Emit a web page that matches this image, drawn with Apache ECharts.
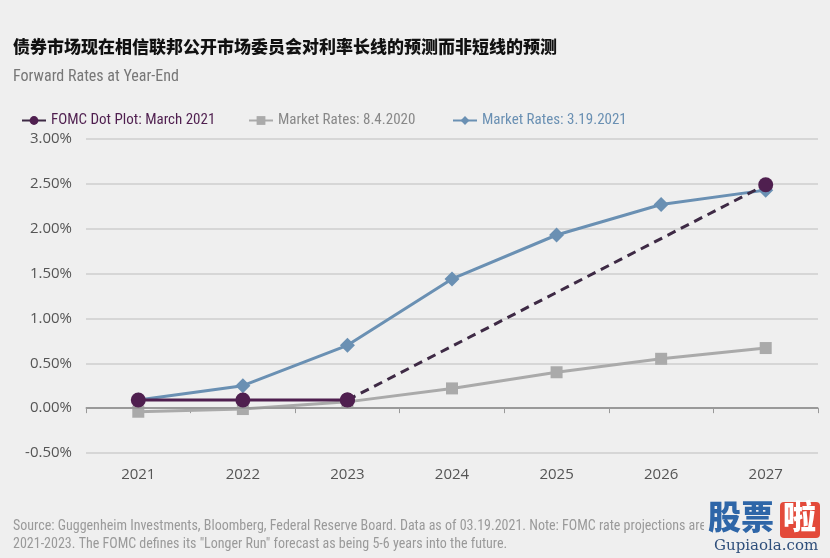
<!DOCTYPE html>
<html><head><meta charset="utf-8">
<script src="https://cdn.jsdelivr.net/npm/echarts@6/dist/echarts.min.js"></script>
<style>html,body{margin:0;padding:0;background:#efefef}#c{width:830px;height:558px}</style>
</head><body><div id="c"></div>
<script>
const categories = ['2021','2022','2023','2024','2025','2026','2027'];
const fomcDots = [0.09, 0.09, 0.09, null, null, null, null];
const fomcLongerRun = [null, null, 0.09, null, null, null, 2.49];
const market2020 = [-0.04, -0.01, 0.07, 0.22, 0.40, 0.55, 0.67];
const market2021 = [0.09, 0.25, 0.70, 1.44, 1.93, 2.27, 2.43];
const yTicks = { min: -0.5, max: 3.0, interval: 0.5 };

const PURPLE = '#4f1f4f', GRAY = '#aaaaaa', BLUE = '#6a90b3';
const narrow = '"Liberation Sans Narrow","Roboto Condensed","Open Sans",sans-serif';
const chart = echarts.init(document.getElementById('c'));
const legendBase = { top: 108, itemWidth: 24, itemHeight: 11, textStyle: { fontFamily: narrow, fontSize: 15 } };
chart.setOption({
  backgroundColor: '#efefef',
  animation: false,
  title: [
    { text: '债券市场现在相信联邦公开市场委员会对利率长线的预测而非短线的预测', left: 8, top: 33,
      textStyle: { fontFamily: '"Noto Sans CJK SC"', fontWeight: 900, fontSize: 17, color: '#111' } },
    { text: 'Forward Rates at Year-End', left: 8, top: 64,
      textStyle: { fontFamily: narrow, fontWeight: 'normal', fontSize: 16, color: '#777' } },
    { text: 'Source: Guggenheim Investments, Bloomberg, Federal Reserve Board. Data as of 03.19.2021. Note: FOMC rate projections are for\n2021-2023. The FOMC defines its "Longer Run" forecast as being 5-6 years into the future.',
      left: 8, top: 512,
      textStyle: { fontFamily: narrow, fontWeight: 'normal', fontSize: 14, color: '#9a9a9a', lineHeight: 18 } }
  ],
  legend: [
    Object.assign({}, legendBase, { left: 16, data: ['FOMC Dot Plot: March 2021'], textStyle: Object.assign({}, legendBase.textStyle, { color: PURPLE }) }),
    Object.assign({}, legendBase, { left: 243, data: ['Market Rates: 8.4.2020'], textStyle: Object.assign({}, legendBase.textStyle, { color: '#888' }) }),
    Object.assign({}, legendBase, { left: 447, data: ['Market Rates: 3.19.2021'], textStyle: Object.assign({}, legendBase.textStyle, { color: BLUE }) })
  ],
  grid: { left: 86, right: 12, top: 139, bottom: 105 },
  xAxis: {
    type: 'category', data: categories, boundaryGap: true,
    axisLine: { lineStyle: { color: '#cfcfcf', width: 2 } },
    axisTick: { show: true, length: 5, lineStyle: { color: '#999' } },
    axisLabel: { color: '#555', fontSize: 15, margin: 14, fontFamily: '"Open Sans",sans-serif' }
  },
  yAxis: {
    type: 'value', min: yTicks.min, max: yTicks.max, interval: yTicks.interval,
    axisLine: { show: false }, axisTick: { show: false },
    splitLine: { lineStyle: { color: '#d6d6d6', width: 2 } },
    axisLabel: { color: '#555', fontSize: 15, margin: 14, fontFamily: '"Open Sans",sans-serif',
      formatter: v => v.toFixed(2) + '%' }
  },
  series: [
    { name: 'Market Rates: 8.4.2020', type: 'line', data: market2020, symbol: 'rect', symbolSize: 12,
      itemStyle: { color: GRAY }, lineStyle: { color: GRAY, width: 3 }, z: 2,
      markLine: { silent: true, symbol: 'none', label: { show: false },
        lineStyle: { color: '#999', width: 2, type: 'solid' }, data: [{ yAxis: 0 }] } },
    { name: 'Market Rates: 3.19.2021', type: 'line', data: market2021, symbol: 'diamond', symbolSize: 15,
      itemStyle: { color: BLUE }, lineStyle: { color: BLUE, width: 3 }, z: 3 },
    { name: 'FOMC Dot Plot: March 2021', type: 'line', data: fomcLongerRun, connectNulls: true, symbol: 'circle',
      symbolSize: 15, showSymbol: true,
      itemStyle: { color: PURPLE }, lineStyle: { color: '#3e2a45', width: 3, type: [9, 6] }, z: 4 },
    { name: 'FOMC Dot Plot: March 2021', type: 'line', data: fomcDots, symbol: 'circle', symbolSize: 15,
      itemStyle: { color: PURPLE }, lineStyle: { color: PURPLE, width: 3 }, z: 5 }
  ],
  graphic: [
    { type: 'group', left: 704, top: 500, z: 50, children: [
      { type: 'rect', x: 0, y: 0, z: 50, shape: { width: 126, height: 58 }, style: { fill: '#efefef' } },
      { type: 'text', x: 4, y: 0, z: 51, style: { text: '股票', fontSize: 33, fontWeight: 900, fill: '#2e66a8', fontFamily: '"Noto Sans CJK SC"' } },
      { type: 'rect', x: 76, y: 2, z: 51, shape: { width: 40, height: 36, r: 4 }, style: { fill: '#e34a3a' } },
      { type: 'text', x: 79, y: 0, z: 52, style: { text: '啦', fontSize: 33, fontWeight: 900, fill: '#fff', fontFamily: '"Noto Sans CJK SC"' } },
      { type: 'text', x: 10, y: 39, z: 51, style: { text: 'Gupiaola.com', fontSize: 15, fill: '#2e4e7a', fontFamily: '"DejaVu Serif",serif' } }
    ] }
  ]
});
</script></body></html>
